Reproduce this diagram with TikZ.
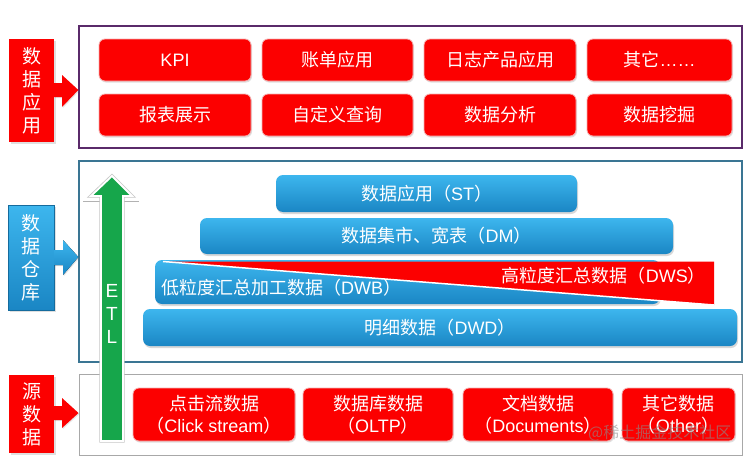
\documentclass[tikz,border=0pt]{standalone}
\usepackage{fontspec}
\setmainfont{Liberation Sans}
\newfontfamily\cjk{Noto Sans CJK SC}
\usetikzlibrary{shadows}
\definecolor{myred}{HTML}{FC0000}
\definecolor{redrim}{HTML}{F6B0B0}
\definecolor{bluetop}{HTML}{3DB6EE}
\definecolor{bluebot}{HTML}{1A86C4}
\definecolor{purpleframe}{HTML}{5A2A6A}
\definecolor{tealframe}{HTML}{3A7593}
\definecolor{grayframe}{HTML}{A8A8A8}
\definecolor{etlgreen}{HTML}{16A64B}
\newcommand\zh[1]{{\cjk #1}}
\tikzset{
  frame/.style={draw, line width=1.3pt, fill=white, inner sep=0pt},
  redbox/.style={rounded corners=6pt, fill=myred, draw=redrim, line width=0.8pt,
    text=white, font=\fontsize{18}{22}\selectfont, inner sep=0pt, align=center,
    drop shadow={opacity=0.25, shadow xshift=1pt, shadow yshift=-1.5pt}},
  redlabel/.style={fill=myred, text=white, inner sep=0pt, align=center,
    font=\cjk\fontsize{19}{23}\selectfont,
    drop shadow={opacity=0.25, shadow xshift=1.5pt, shadow yshift=-1.5pt}},
  bluelabel/.style={top color=bluetop, bottom color=bluebot, draw=bluebot!80!black, line width=0.4pt,
    text=white, inner sep=0pt, align=center, font=\cjk\fontsize{19}{23}\selectfont,
    drop shadow={opacity=0.25, shadow xshift=1.5pt, shadow yshift=-1.5pt}},
  bluebar/.style={rounded corners=7pt, top color=bluetop, bottom color=bluebot,
    text=white, inner sep=0pt, font=\fontsize{18}{22}\selectfont,
    drop shadow={opacity=0.3, shadow xshift=1pt, shadow yshift=-2pt}},
  bartext/.style={text=white, inner sep=0pt, font=\fontsize{18}{22}\selectfont},
}
\begin{document}
\begin{tikzpicture}[x=1pt,y=-1pt]
\useasboundingbox (0,0) rectangle (745,458);
\fill[white] (0,0) rectangle (745,458);

% ---------- frames ----------
\node[frame, draw=purpleframe, minimum width=663pt, minimum height=122pt] (appframe) at (410.5,87) {};
\node[frame, draw=tealframe, minimum width=663pt, minimum height=201pt] (dwframe) at (410.5,261.5) {};
\node[frame, draw=grayframe, line width=1pt, minimum width=663pt, minimum height=81pt] (srcframe) at (410.5,414.5) {};

% ---------- left labels ----------
\node[redlabel, minimum width=45pt, minimum height=103pt] (lab1) at (31.5,90.5) {数\\据\\应\\用};
\node[bluelabel, minimum width=46pt, minimum height=105pt] (lab2) at (31,257.5) {数\\据\\仓\\库};
\node[redlabel, minimum width=45pt, minimum height=78pt] (lab3) at (31.5,414) {源\\数\\据};

% block arrows from labels to frames
\fill[myred, drop shadow={opacity=0.2, shadow xshift=1pt, shadow yshift=-1pt}]
  (lab1.east |- 0,83) -- (62,83) -- (62,75) -- (appframe.west |- 0,90) -- (62,107) -- (62,97) -- (lab1.east |- 0,97) -- cycle;
\fill[top color=bluetop, bottom color=bluebot, drop shadow={opacity=0.2, shadow xshift=1pt, shadow yshift=-1pt}]
  (lab2.east |- 0,250) -- (63,250) -- (63,240) -- (dwframe.west |- 0,257) -- (63,275) -- (63,265) -- (lab2.east |- 0,265) -- cycle;
\fill[myred, drop shadow={opacity=0.2, shadow xshift=1pt, shadow yshift=-1pt}]
  (lab3.east |- 0,406) -- (62,406) -- (62,398) -- (srcframe.west |- 0,413) -- (62,428) -- (62,420) -- (lab3.east |- 0,420) -- cycle;

% ---------- application boxes ----------
\node[redbox, minimum width=152pt, minimum height=42pt] (kpi) at (175,60) {KPI};
\node[redbox, minimum width=151pt, minimum height=42pt] (bill) at (337.5,60) {\zh{账单应用}};
\node[redbox, minimum width=152pt, minimum height=42pt] (logapp) at (500,60) {\zh{日志产品应用}};
\node[redbox, minimum width=145pt, minimum height=42pt] (other1) at (659.5,60) {\zh{其它}……};
\node[redbox, minimum width=152pt, minimum height=42pt] (report) at (175,115) {\zh{报表展示}};
\node[redbox, minimum width=151pt, minimum height=42pt] (query) at (337.5,115) {\zh{自定义查询}};
\node[redbox, minimum width=152pt, minimum height=42pt] (analysis) at (500,115) {\zh{数据分析}};
\node[redbox, minimum width=145pt, minimum height=42pt] (mining) at (659.5,115) {\zh{数据挖掘}};

% ---------- warehouse layers ----------
\node[bluebar, minimum width=301pt, minimum height=37pt] (st) at (426.5,193.5) {\zh{数据应用（}ST\zh{）}};
\node[bluebar, minimum width=473pt, minimum height=36pt] (dm) at (436.5,236) {\zh{数据集市、宽表（}DM\zh{）}};
\node[bluebar, minimum width=505pt, minimum height=44pt] (dwb) at (407.5,282) {};
\fill[myred] (163,261.5) -- (714,261.5) -- (714,305) -- cycle;
\draw[white, line width=1.5pt] (163,261.5) -- (714,305);
\node[bartext, anchor=west] (dwbtext) at (161,288) {\zh{低粒度汇总加工数据（}DWB\zh{）}};
\node[bartext, anchor=east] (dwstext) at (706,276) {\zh{高粒度汇总数据（}DWS\zh{）}};
\node[bluebar, minimum width=594pt, minimum height=37pt] (dwd) at (440,327.5) {\zh{明细数据（}DWD\zh{）}};

% ---------- source boxes ----------
\node[redbox, minimum width=162pt, minimum height=53pt] (click) at (214,414.5) {\zh{点击流数据}\\\zh{（}Click stream\zh{）}};
\node[redbox, minimum width=150pt, minimum height=53pt] (oltp) at (378,414.5) {\zh{数据库数据}\\\zh{（}OLTP\zh{）}};
\node[redbox, minimum width=150pt, minimum height=53pt] (docs) at (538,414.5) {\zh{文档数据}\\\zh{（}Documents\zh{）}};
\node[redbox, minimum width=113pt, minimum height=53pt] (other2) at (678.5,414.5) {\zh{其它数据}\\\zh{（}Other\zh{）}};

% ---------- ETL arrow ----------
\draw[black!30, line width=1pt] (83,201) -- (139,201);
\filldraw[fill=etlgreen, draw=white, line width=1.8pt, preaction={draw=black!22, line width=3.4pt}]
  (101,441) -- (101,196) -- (91,196) -- (112,176) -- (132,196) -- (123,196) -- (123,441) -- cycle;
\node[text=white, inner sep=0pt, align=center, font=\fontsize{19}{23}\selectfont] (etl) at (112,314) {E\\T\\L};

% watermark
\node[text=black!45, opacity=0.6, inner sep=0pt, font=\cjk\fontsize{16}{18}\selectfont, anchor=west] (wm) at (588,433) {@稀土掘金技术社区};
\end{tikzpicture}
\end{document}
